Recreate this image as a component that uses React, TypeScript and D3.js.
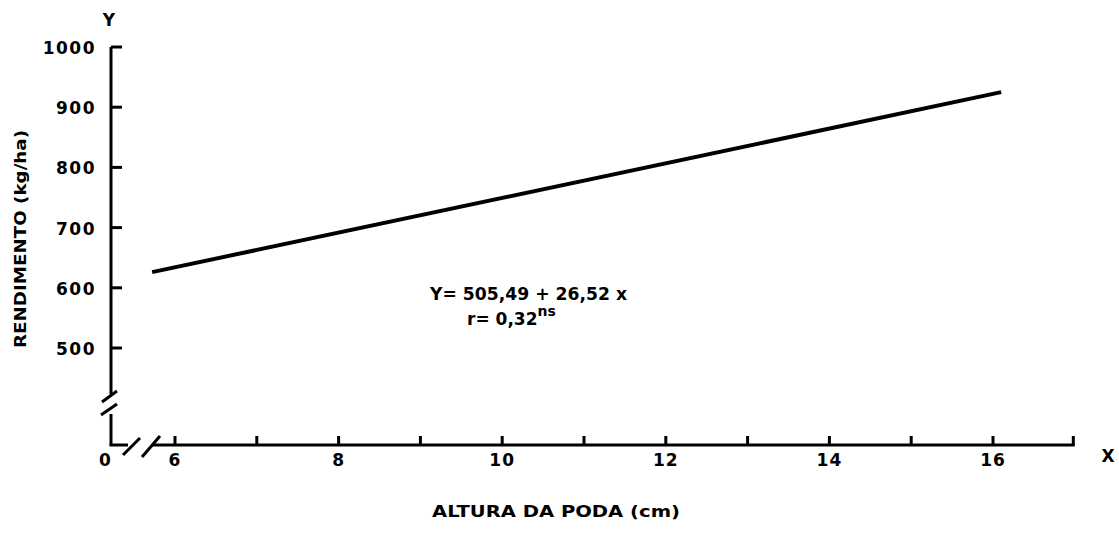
import { useRef, useEffect } from "react";
import * as d3 from "d3";

// values
const xTicks = [6, 7, 8, 9, 10, 11, 12, 13, 14, 15, 16, 17];
const xTickLabels = [6, 8, 10, 12, 14, 16];
const yTicks = [500, 600, 700, 800, 900, 1000];
const fittedX = [5.72, 16.1];
const fittedY = [626, 925];
const equation = "Y= 505,49 + 26,52 x";
const corr = "r= 0,32";
const xTitle = "ALTURA DA PODA (cm)";
const yTitle = "RENDIMENTO (kg/ha)";

const FONT = "'DejaVu Sans', 'Liberation Sans', sans-serif";

const App = () => {
  const svgRef = useRef<SVGSVGElement>(null);

  useEffect(() => {
    const width = 1119;
    const height = 544;
    const svg = d3
      .select(svgRef.current)
      .attr("width", width)
      .attr("height", height)
      .style("background", "#fff");
    svg.selectAll("*").remove();

    // scales
    const xScale = d3.scaleLinear().domain([6, 16]).range([175, 993]);
    const yScale = d3.scaleLinear().domain([500, 1000]).range([348, 47]);
    const originX = 111;
    const baseY = 445;

    const g = svg.append("g").attr("fill", "none").attr("stroke", "#000");

    // y axis with break
    g.append("line")
      .attr("x1", originX).attr("x2", originX)
      .attr("y1", yScale(1000)).attr("y2", 394)
      .attr("stroke-width", 3);
    g.append("line")
      .attr("x1", originX).attr("x2", originX)
      .attr("y1", 414).attr("y2", baseY)
      .attr("stroke-width", 3);
    [[117, 391, 102, 402], [117, 404, 101, 415]].forEach((s) =>
      g.append("line")
        .attr("x1", s[0]).attr("y1", s[1]).attr("x2", s[2]).attr("y2", s[3])
        .attr("stroke-width", 3)
    );
    g.selectAll(".ytick")
      .data(yTicks)
      .join("line")
      .attr("x1", originX).attr("x2", originX + 11)
      .attr("y1", (d) => yScale(d)).attr("y2", (d) => yScale(d))
      .attr("stroke-width", 3);

    // x axis with break
    g.append("line")
      .attr("x1", originX - 1.5).attr("x2", 128)
      .attr("y1", baseY).attr("y2", baseY)
      .attr("stroke-width", 3);
    g.append("line")
      .attr("x1", 152).attr("x2", xScale(17))
      .attr("y1", baseY).attr("y2", baseY)
      .attr("stroke-width", 3);
    [[123, 455, 140, 438], [142, 457, 160, 436]].forEach((s) =>
      g.append("line")
        .attr("x1", s[0]).attr("y1", s[1]).attr("x2", s[2]).attr("y2", s[3])
        .attr("stroke-width", 3)
    );
    g.selectAll(".xtick")
      .data(xTicks)
      .join("line")
      .attr("x1", (d) => xScale(d) - (d === 17 ? 1.5 : 0))
      .attr("x2", (d) => xScale(d) - (d === 17 ? 1.5 : 0))
      .attr("y1", baseY).attr("y2", baseY - 9)
      .attr("stroke-width", 3);

    // regression line
    const line = d3
      .line<number>()
      .x((d, i) => xScale(fittedX[i]))
      .y((d) => yScale(d));
    svg.append("path")
      .attr("d", line(fittedY))
      .attr("fill", "none")
      .attr("stroke", "#000")
      .attr("stroke-width", 4);

    // labels
    const t = svg.append("g")
      .attr("fill", "#000")
      .style("font-family", FONT)
      .style("font-weight", "bold");

    t.selectAll(".ylab")
      .data(yTicks)
      .join("text")
      .attr("x", 96)
      .attr("y", (d) => yScale(d) + 7)
      .attr("text-anchor", "end")
      .attr("font-size", 17)
      .attr("letter-spacing", 1.5)
      .text((d) => d);

    t.selectAll(".xlab")
      .data(xTickLabels)
      .join("text")
      .attr("x", (d) => xScale(d))
      .attr("y", 466)
      .attr("text-anchor", "middle")
      .attr("font-size", 17)
      .attr("letter-spacing", 1)
      .text((d) => d);

    t.append("text").attr("x", 105).attr("y", 466)
      .attr("text-anchor", "middle").attr("font-size", 17).text("0");
    t.append("text").attr("x", 109).attr("y", 26)
      .attr("text-anchor", "middle").attr("font-size", 17).text("Y");
    t.append("text").attr("x", 1108).attr("y", 462)
      .attr("text-anchor", "middle").attr("font-size", 17).text("X");

    t.append("text")
      .attr("x", 432).attr("y", 517)
      .attr("font-size", 15)
      .attr("textLength", 248)
      .attr("lengthAdjust", "spacingAndGlyphs")
      .text(xTitle);

    t.append("text")
      .attr("transform", "translate(26,348) rotate(-90)")
      .attr("font-size", 15)
      .attr("textLength", 218)
      .attr("lengthAdjust", "spacingAndGlyphs")
      .text(yTitle);

    t.append("text")
      .attr("x", 430).attr("y", 300)
      .attr("font-size", 18)
      .attr("textLength", 197)
      .attr("lengthAdjust", "spacingAndGlyphs")
      .text(equation);
    const r = t.append("text")
      .attr("x", 467).attr("y", 325)
      .attr("font-size", 17);
    r.append("tspan").text(corr);
    r.append("tspan").attr("dy", -9).attr("font-size", 14).text("ns");
  }, []);

  return (
    <div style={{ position: "fixed", left: 0, top: 0 }}>
      <svg ref={svgRef}></svg>
    </div>
  );
};

export default App;
